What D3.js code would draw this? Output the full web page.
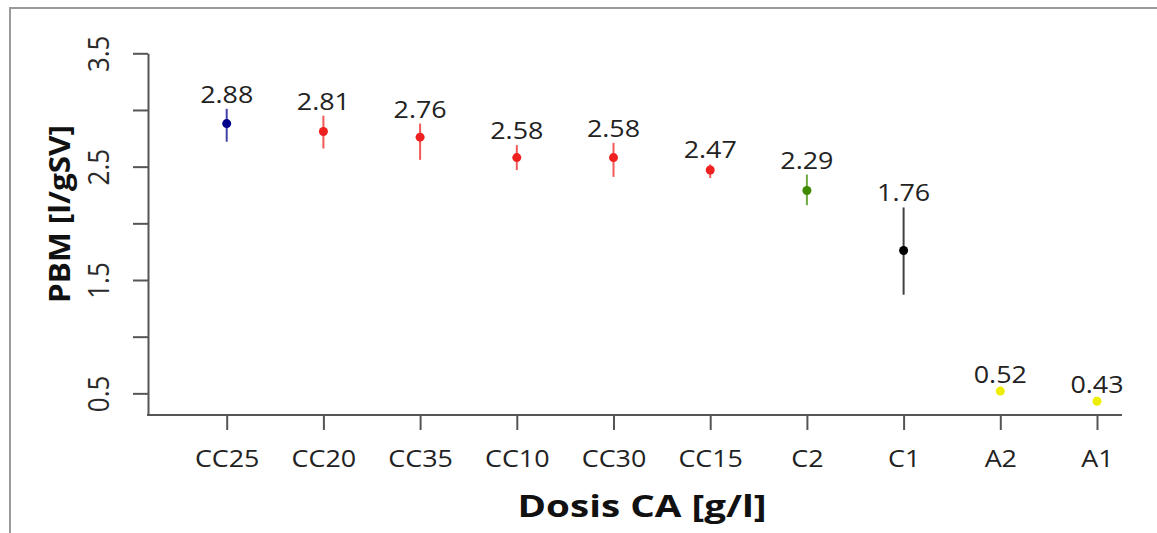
<!DOCTYPE html>
<html>
<head>
<meta charset="utf-8">
<script src="https://cdn.jsdelivr.net/npm/d3@7"></script>
<style>
  body { margin: 0; background: #fff; }
  svg { display: block; }
</style>
</head>
<body>
<div id="chart"></div>
<script>
// Data
var categories = ["CC25", "CC20", "CC35", "CC10", "CC30", "CC15", "C2", "C1", "A2", "A1"];
var means = [2.88, 2.81, 2.76, 2.58, 2.58, 2.47, 2.29, 1.76, 0.52, 0.43];
var lower = [2.72, 2.66, 2.56, 2.47, 2.41, 2.40, 2.16, 1.37, 0.50, 0.41];
var upper = [3.01, 2.95, 2.88, 2.69, 2.71, 2.52, 2.43, 2.14, 0.54, 0.45];
var colors = ["#00008b", "#ee2020", "#ee2020", "#ee2020", "#ee2020", "#ee2020", "#3f8a00", "#000000", "#eeee00", "#eeee00"];
var yTicks = [0.5, 1.0, 1.5, 2.0, 2.5, 3.0, 3.5];
var yTickLabels = ["0.5", "", "1.5", "", "2.5", "", "3.5"];

var width = 1157, height = 533;
var stretch = 1.12; // the reference text is a bit wide

var svg = d3.select("#chart").append("svg")
    .attr("width", width)
    .attr("height", height);

// outer frame (top and left only)
svg.append("path")
    .attr("d", "M10,533 L10,8 L1157,8")
    .attr("fill", "none")
    .attr("stroke", "#9a9a9a")
    .attr("stroke-width", 2);

var x = d3.scalePoint()
    .domain(categories)
    .range([226.7, 1097]);

var y = d3.scaleLinear()
    .domain([0.309, 3.5])
    .range([415, 53.3]);

var axisColor = "#555";

// y axis
var yAxis = d3.axisLeft(y)
    .tickValues(yTicks)
    .tickSize(15)
    .tickSizeOuter(0)
    .tickFormat(function(d, i) { return yTickLabels[i]; });

var gy = svg.append("g")
    .attr("transform", "translate(148,0)")
    .call(yAxis);
gy.select(".domain").attr("stroke", axisColor).attr("stroke-width", 2);
gy.selectAll(".tick line").attr("stroke", axisColor).attr("stroke-width", 2);
gy.selectAll(".tick text")
    .attr("x", null)
    .attr("dy", null)
    .attr("text-anchor", "middle")
    .attr("transform", "translate(-39,0) scale(" + stretch + ",1) rotate(-90)")
    .style("font-family", "'Open Sans', sans-serif")
    .style("font-size", "26px")
    .attr("fill", "#2a2a2a");

// x axis
var xAxis = d3.axisBottom(x)
    .tickSize(15)
    .tickSizeOuter(0);

var gx = svg.append("g")
    .attr("transform", "translate(0,415)")
    .call(xAxis);
gx.select(".domain").remove();
gx.append("line")
    .attr("x1", 147)
    .attr("x2", 1122)
    .attr("stroke", axisColor)
    .attr("stroke-width", 2);
gx.selectAll(".tick line").attr("stroke", axisColor).attr("stroke-width", 2);
gx.selectAll(".tick text")
    .attr("y", 52)
    .attr("dy", null)
    .attr("transform", "scale(" + stretch + ",1)")
    .style("font-family", "'Open Sans', sans-serif")
    .style("font-size", "24px")
    .attr("fill", "#222");

// axis titles
svg.append("text")
    .attr("transform", "translate(70,214) scale(" + stretch + ",1) rotate(-90)")
    .attr("text-anchor", "middle")
    .attr("textLength", 178)
    .attr("lengthAdjust", "spacingAndGlyphs")
    .style("font-family", "'Open Sans', sans-serif")
    .style("font-weight", "bold")
    .style("font-size", "25px")
    .attr("fill", "#111")
    .text("PBM [l/gSV]");

svg.append("text")
    .attr("x", 642)
    .attr("y", 517)
    .attr("text-anchor", "middle")
    .attr("textLength", 249)
    .attr("lengthAdjust", "spacingAndGlyphs")
    .style("font-family", "'Open Sans', sans-serif")
    .style("font-weight", "bold")
    .style("font-size", "30px")
    .attr("fill", "#111")
    .text("Dosis CA [g/l]");

var points = categories.map(function(c, i) {
  return { cat: c, mean: means[i], lo: lower[i], hi: upper[i], color: colors[i] };
});

// error bars
svg.selectAll("line.err")
    .data(points)
    .enter()
    .append("line")
    .attr("class", "err")
    .attr("x1", function(d) { return x(d.cat); })
    .attr("x2", function(d) { return x(d.cat); })
    .attr("y1", function(d) { return y(d.lo); })
    .attr("y2", function(d) { return y(d.hi); })
    .attr("stroke", function(d) { return d.color; })
    .attr("stroke-opacity", 0.75)
    .attr("stroke-width", 2);

// mean points
svg.selectAll("circle")
    .data(points)
    .enter()
    .append("circle")
    .attr("cx", function(d) { return x(d.cat); })
    .attr("cy", function(d) { return y(d.mean); })
    .attr("r", 4.5)
    .attr("fill", function(d) { return d.color; });

// value labels above the bars
svg.selectAll("text.val")
    .data(points)
    .enter()
    .append("text")
    .attr("class", "val")
    .attr("text-anchor", "middle")
    .attr("transform", function(d) {
      return "translate(" + x(d.cat) + "," + (y(d.hi) - 6) + ") scale(" + stretch + ",1)";
    })
    .style("font-family", "'Open Sans', sans-serif")
    .style("font-size", "24px")
    .attr("fill", "#222")
    .text(function(d) { return d.mean.toFixed(2); });
</script>
</body>
</html>
